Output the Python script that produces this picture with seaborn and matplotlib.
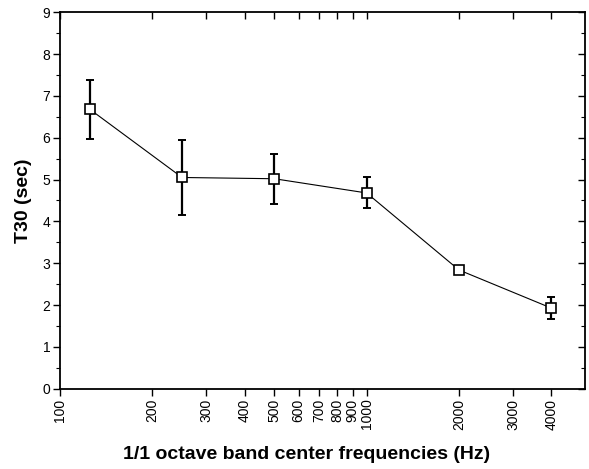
import matplotlib
matplotlib.use("Agg")
import matplotlib.pyplot as plt
import seaborn as sns
import pandas as pd
from matplotlib.ticker import FixedLocator, FixedFormatter, MultipleLocator, NullLocator

freqs = [125, 250, 500, 1000, 2000, 4000]
t30 = [6.68, 5.05, 5.02, 4.68, 2.84, 1.93]
err = [0.70, 0.90, 0.60, 0.37, 0.08, 0.27]
xticks = [100, 200, 300, 400, 500, 600, 700, 800, 900, 1000, 2000, 3000, 4000]
xticklabels = [str(v) for v in xticks]

sns.set_theme(style="ticks")
plt.rcParams['font.family'] = ['Liberation Sans', 'DejaVu Sans']
plt.rcParams['text.color'] = 'black'
plt.rcParams['axes.labelcolor'] = 'black'
plt.rcParams['xtick.color'] = 'black'
plt.rcParams['ytick.color'] = 'black'

fig = plt.figure(figsize=(5.89, 4.69), dpi=100)
ax = fig.add_axes([0.102, 0.171, 0.891, 0.803])

df = pd.DataFrame({"freq": freqs, "t30": t30})
ax.errorbar(freqs, t30, yerr=err, fmt="none", ecolor="black", elinewidth=1.6,
            capsize=3.2, capthick=1.4, zorder=2)
sns.lineplot(data=df, x="freq", y="t30", ax=ax, color="black", linewidth=0.8,
             marker="s", markersize=6.5, markerfacecolor="white",
             markeredgecolor="black", markeredgewidth=1.2, zorder=3)

ax.set_xscale("log")
ax.set_xlim(100, 5150)
ax.set_ylim(0, 9)
ax.xaxis.set_major_locator(FixedLocator(xticks))
ax.xaxis.set_major_formatter(FixedFormatter(xticklabels))
ax.xaxis.set_minor_locator(NullLocator())
ax.yaxis.set_major_locator(MultipleLocator(1))
ax.yaxis.set_minor_locator(MultipleLocator(0.5))

ax.tick_params(axis="x", which="major", direction="out", length=5, width=1,
               labelsize=10, rotation=90, top=True, labeltop=False, pad=2)
ax.tick_params(axis="y", which="major", direction="out", length=5, width=1,
               labelsize=10, right=True, labelright=False, pad=2)
ax.tick_params(axis="y", which="minor", direction="out", length=3, width=0.8, right=True)
for t in ax.xaxis.get_majorticklines()[1::2]:
    t.set_marker(3)  # top ticks inward
for t in ax.yaxis.get_majorticklines()[1::2]:
    t.set_marker(0)
for t in ax.yaxis.get_minorticklines()[1::2]:
    t.set_marker(0)

for s in ax.spines.values():
    s.set_linewidth(1.3)
    s.set_color("black")

ax.set_xlabel("1/1 octave band center frequencies (Hz)", fontsize=14,
              fontweight="bold")
ax.set_ylabel("T30 (sec)", fontsize=14, fontweight="bold")
ax.xaxis.set_label_coords(0.469, -0.151)
ax.yaxis.set_label_coords(-0.053, 0.5)

fig.savefig("out.png", dpi=100)
